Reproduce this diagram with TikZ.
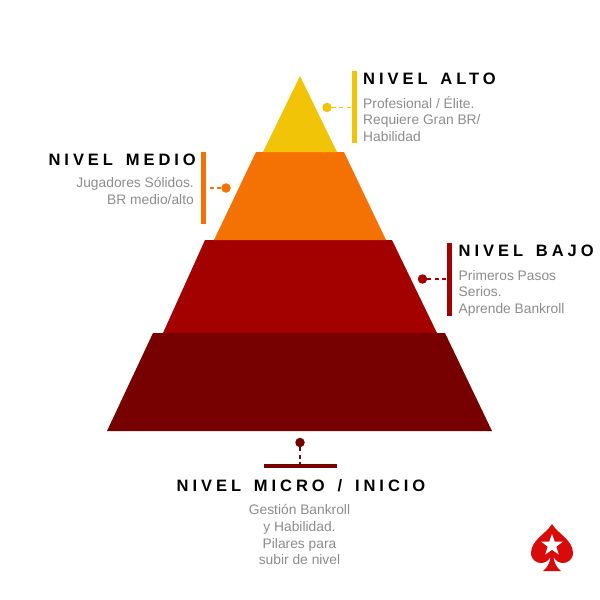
\documentclass[tikz,border=0pt]{standalone}
\usepackage{fontspec}
\setmainfont{Liberation Sans}
\newfontface\headfont[LetterSpace=24, WordSpace=1.5]{Liberation Sans Bold}
\usetikzlibrary{positioning}
\definecolor{alto}{HTML}{F2C407}
\definecolor{medio}{HTML}{F47204}
\definecolor{bajo}{HTML}{A30000}
\definecolor{micro}{HTML}{770000}
\definecolor{textgray}{HTML}{8C8C8C}
\definecolor{spade}{HTML}{D90A0A}
\tikzset{
    heading/.style={inner sep=0pt, text=black, font=\headfont\fontsize{16.5}{18}\selectfont},
    body/.style={inner sep=0pt, text=textgray, font=\fontsize{13.8}{16.6}\selectfont},
    dot/.style={circle, fill=#1, inner sep=0pt, minimum size=9.5pt},
    leader/.style={#1, line width=1.6pt, dash pattern=on 4pt off 3.5pt},
    bar/.style={#1, line width=4.2pt}
}
\begin{document}
\begin{tikzpicture}[x=1pt, y=-1pt]
    \useasboundingbox (0, 0) rectangle (600, 600);

    % pyramid
    \fill[micro] (153, 333) -- (445, 333) -- (492, 431) -- (107, 431) -- cycle;
    \fill[bajo] (205, 240) -- (392, 240) -- (437, 333) -- (163, 333) -- cycle;
    \fill[medio] (256, 152) -- (344, 152) -- (386, 240) -- (214, 240) -- cycle;
    \fill[alto] (300, 76) -- (337, 152) -- (263, 152) -- cycle;

    % nivel alto
    \coordinate (altoTop) at (354.5, 71);
    \coordinate (altoBot) at (354.5, 143);
    \coordinate (altoEnd) at (354.5, 107.5);
    \node[dot=alto] (altoDot) at (327, 107.5) {};
    \draw[bar=alto] (altoTop) -- (altoBot);
    \draw[leader=alto] (altoDot) -- (altoEnd);
    \node[heading, anchor=west] (altoHead) at (363, 78.5) {NIVEL ALTO};
    \node[body, anchor=north west, align=left] (altoText) at (363, 96) {Profesional / Élite.\\Requiere Gran BR/\\Habilidad};

    % nivel medio
    \coordinate (medioTop) at (203.5, 152);
    \coordinate (medioBot) at (203.5, 224);
    \coordinate (medioEnd) at (203.5, 188);
    \node[dot=medio] (medioDot) at (226, 188) {};
    \draw[bar=medio] (medioTop) -- (medioBot);
    \draw[leader=medio] (medioDot) -- (medioEnd);
    \node[heading, anchor=east] (medioHead) at (196, 159.5) {NIVEL MEDIO};
    \node[body, anchor=north east, align=right] (medioText) at (194, 177.5) {Jugadores Sólidos.\\BR medio/alto};

    % nivel bajo
    \coordinate (bajoTop) at (449.5, 243);
    \coordinate (bajoBot) at (449.5, 316);
    \coordinate (bajoEnd) at (449.5, 279);
    \node[dot=bajo] (bajoDot) at (422.5, 279) {};
    \draw[bar=bajo] (bajoTop) -- (bajoBot);
    \draw[leader=bajo] (bajoDot) -- (bajoEnd);
    \node[heading, anchor=west] (bajoHead) at (458.5, 251) {NIVEL BAJO};
    \node[body, anchor=north west, align=left] (bajoText) at (458.5, 270) {Primeros Pasos\\Serios.\\Aprende Bankroll};

    % nivel micro
    \coordinate (microLeft) at (264, 466);
    \coordinate (microRight) at (337, 466);
    \coordinate (microEnd) at (300, 466);
    \node[dot=micro] (microDot) at (300, 442.5) {};
    \draw[bar=micro] (microLeft) -- (microRight);
    \draw[leader=micro] (microDot) -- (microEnd);
    \node[heading, anchor=center] (microHead) at (301, 485.5) {NIVEL MICRO / INICIO};
    \node[body, anchor=north, align=center] (microText) at (299.5, 504.5) {Gestión Bankroll\\y Habilidad.\\Pilares para\\subir de nivel};

    % logo
    \fill[spade] (552, 524) .. controls (557, 533) and (573, 540) .. (573, 553)
        .. controls (573, 560) and (567, 563) .. (563, 563)
        .. controls (559, 563) and (556, 561) .. (553.5, 557)
        .. controls (554, 563) and (557, 568) .. (561, 571) -- (543, 571)
        .. controls (547, 568) and (550, 563) .. (550.5, 557)
        .. controls (548, 561) and (545, 563) .. (541, 563)
        .. controls (537, 563) and (531, 560) .. (531, 553)
        .. controls (531, 540) and (547, 533) .. (552, 524) -- cycle;
    \fill[white] (552, 534) -- (554.7, 541.5) -- (563, 541.5) -- (556.3, 546.7)
        -- (558.8, 554.5) -- (552, 549.8) -- (545.2, 554.5) -- (547.7, 546.7)
        -- (541, 541.5) -- (549.3, 541.5) -- cycle;
\end{tikzpicture}
\end{document}
